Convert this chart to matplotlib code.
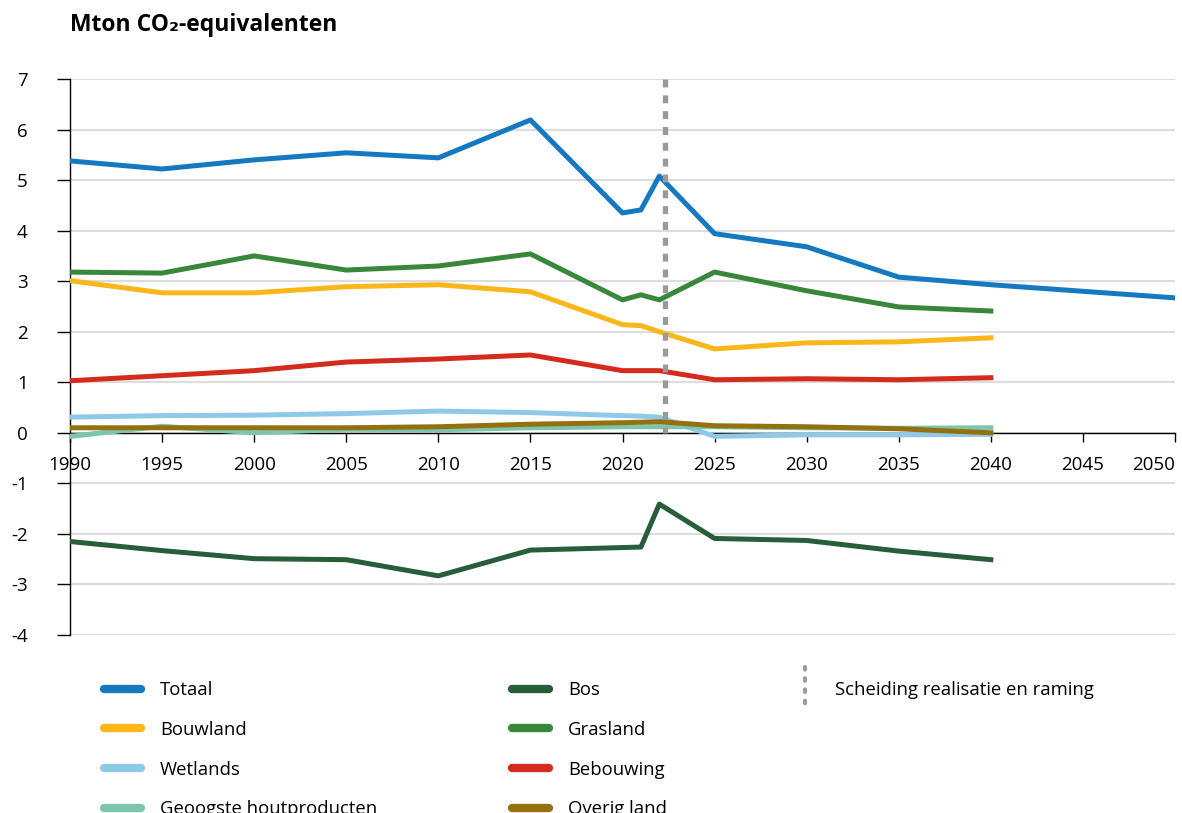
import matplotlib
matplotlib.use("Agg")
import matplotlib.pyplot as plt
from matplotlib.lines import Line2D
from matplotlib.legend_handler import HandlerBase

plt.rcParams['font.family'] = ['Open Sans', 'DejaVu Sans']

# years of the series (realisation up to 2022, projection afterwards)
years = [1990, 1995, 2000, 2005, 2010, 2015, 2020, 2021, 2022, 2025, 2030, 2035, 2040]
years_totaal = years + [2045, 2050]
split_year = 2022.3

totaal = [5.38, 5.22, 5.40, 5.54, 5.44, 6.19, 4.35, 4.41, 5.08, 3.94, 3.68, 3.08, 2.93, 2.80, 2.67]
bouwland = [3.01, 2.77, 2.77, 2.89, 2.93, 2.79, 2.14, 2.12, 2.00, 1.66, 1.78, 1.80, 1.88]
wetlands = [0.31, 0.34, 0.35, 0.38, 0.43, 0.40, 0.34, 0.33, 0.31, -0.07, -0.04, -0.04, -0.03]
geoogst = [-0.07, 0.13, 0.00, 0.07, 0.06, 0.10, 0.12, 0.12, 0.12, 0.12, 0.10, 0.09, 0.10]
bos = [-2.15, -2.33, -2.49, -2.51, -2.83, -2.32, -2.27, -2.26, -1.41, -2.09, -2.13, -2.34, -2.51]
grasland = [3.18, 3.16, 3.50, 3.22, 3.30, 3.54, 2.63, 2.73, 2.63, 3.18, 2.81, 2.49, 2.41]
bebouwing = [1.03, 1.13, 1.23, 1.40, 1.46, 1.54, 1.23, 1.23, 1.23, 1.05, 1.07, 1.05, 1.09]
overig = [0.10, 0.10, 0.10, 0.10, 0.12, 0.17, 0.20, 0.21, 0.22, 0.14, 0.12, 0.08, 0.00]

x_ticks = list(range(1990, 2051, 5))
y_ticks = list(range(-4, 8))

# colours
c_totaal = '#1479c0'
c_bouwland = '#fbb61a'
c_wetlands = '#8ecae8'
c_geoogst = '#7cc6ae'
c_bos = '#275d38'
c_grasland = '#39873a'
c_bebouwing = '#d52b1e'
c_overig = '#94710f'
c_split = '#9a9a9a'

fig = plt.figure(figsize=(11.82, 8.13), dpi=100)
ax = fig.add_axes([70 / 1182, 178 / 813, 1105 / 1182, 556 / 813])

lw = 3.6
ax.plot(years_totaal, totaal, color=c_totaal, lw=lw, zorder=3)
ax.plot(years, bouwland, color=c_bouwland, lw=lw, zorder=3)
ax.plot(years, wetlands, color=c_wetlands, lw=lw, zorder=3)
ax.plot(years, geoogst, color=c_geoogst, lw=lw, zorder=3)
ax.plot(years, bos, color=c_bos, lw=lw, zorder=3)
ax.plot(years, grasland, color=c_grasland, lw=lw, zorder=3)
ax.plot(years, bebouwing, color=c_bebouwing, lw=lw, zorder=3)
ax.plot(years, overig, color=c_overig, lw=lw, zorder=3)

# dotted separator, drawn from the top down so a dash starts at 7
ax.vlines(split_year, 7, 0, color=c_split, lw=3.8, linestyles=(0, (1.5, 1.5)), zorder=4)

ax.set_xlim(1990, 2050)
ax.set_ylim(-4, 7)
ax.set_xticks(x_ticks)
ax.set_yticks(y_ticks)
ax.set_yticklabels([str(v) for v in y_ticks])
ax.grid(axis='y', color='#dddddd', lw=1.6, zorder=0)
ax.set_axisbelow(True)

for s in ['top', 'right']:
    ax.spines[s].set_visible(False)
ax.spines['bottom'].set_position(('data', 0))
ax.spines['bottom'].set_linewidth(1.0)
ax.spines['left'].set_linewidth(1.0)
ax.spines['bottom'].set_zorder(2.5)

ax.tick_params(axis='x', direction='out', length=6.5, width=1, pad=10, labelsize=13.5)
ax.tick_params(axis='y', direction='out', length=9.4, width=1, pad=21, labelsize=13.5)
for lab in ax.get_yticklabels():
    lab.set_horizontalalignment('right')
xlabs = ax.get_xticklabels()
xlabs[-1].set_horizontalalignment('right')

fig.text(70 / 1182, 1 - 25 / 813, 'Mton CO\u2082-equivalenten', fontsize=16.5,
         fontweight='bold', va='center', ha='left')


class VDotHandler(HandlerBase):
    def create_artists(self, legend, orig_handle, xdescent, ydescent,
                       width, height, fontsize, trans):
        x = width / 2 - xdescent
        ln = Line2D([x, x], [height * 2.2 - ydescent, -ydescent - height * 1.2],
                    color=c_split, lw=3.0, linestyle=(0, (0.6, 2.1)),
                    dash_capstyle='round', transform=trans)
        return [ln]


def handle(c):
    return Line2D([], [], color=c, lw=6, solid_capstyle='round')


leg_kw = dict(frameon=False, fontsize=13.3, borderpad=0, borderaxespad=0,
              labelspacing=1.18, handletextpad=1.03, handlelength=2.0, loc='upper left')

top = 1 - 681 / 813
leg1 = fig.legend([handle(c_totaal), handle(c_bouwland), handle(c_wetlands), handle(c_geoogst)],
                  ['Totaal', 'Bouwland', 'Wetlands', 'Geoogste houtproducten'],
                  bbox_to_anchor=(104 / 1182, top), **leg_kw)
leg2 = fig.legend([handle(c_bos), handle(c_grasland), handle(c_bebouwing), handle(c_overig)],
                  ['Bos', 'Grasland', 'Bebouwing', 'Overig land'],
                  bbox_to_anchor=(512 / 1182, top), **leg_kw)
kw3 = dict(leg_kw)
kw3['handlelength'] = 1.0
kw3['handletextpad'] = 1.1
leg3 = fig.legend([Line2D([], [])], ['Scheiding realisatie en raming'],
                  handler_map={Line2D: VDotHandler()},
                  bbox_to_anchor=(796 / 1182, top), **kw3)

fig.savefig('out.png', dpi=100)
